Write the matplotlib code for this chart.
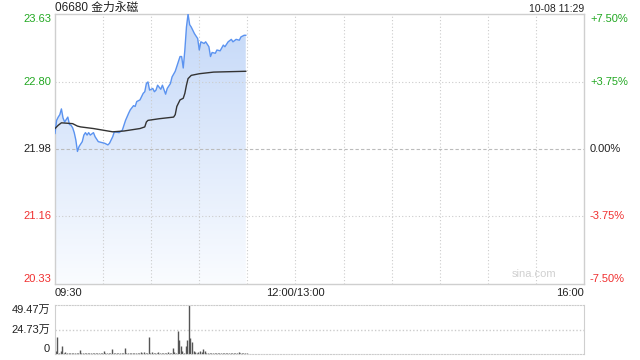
import matplotlib
matplotlib.use("Agg")
import matplotlib.pyplot as plt
import matplotlib.transforms as mtransforms
import numpy as np

plt.rcParams["font.family"] = ["Liberation Sans", "Noto Sans CJK SC", "DejaVu Sans"]

# ── data (minutes after 09:30, lunch break removed) ──────────────────────
prev_close = 21.98
price_min = [0, 1, 2, 3, 4, 5, 6, 8, 9, 10, 11, 12, 13, 14, 15, 17, 18, 19, 20, 21,
             22, 24, 25, 27, 29, 31, 33, 34, 36, 37, 40, 42, 44, 46, 47, 49, 50, 51, 53, 55,
             56, 57, 58, 59, 61, 62, 63, 64, 66, 67, 69, 70, 72, 73, 75, 76, 78, 79, 80, 81,
             82, 83, 84, 85, 87, 89, 90, 91, 93, 94, 96, 97, 98, 100, 101, 103, 105, 106, 108, 110,
             111, 113, 115, 116, 118, 119]
price = [22.17, 22.33, 22.37, 22.40, 22.47, 22.36, 22.31, 22.37, 22.28, 22.27, 22.24, 22.18, 22.09, 21.95, 22.01, 22.07, 22.15, 22.18, 22.15, 22.18,
         22.15, 22.18, 22.13, 22.07, 22.06, 22.05, 22.03, 22.05, 22.13, 22.19, 22.18, 22.21, 22.33, 22.42, 22.46, 22.51, 22.50, 22.56, 22.58, 22.66,
         22.68, 22.78, 22.80, 22.70, 22.72, 22.68, 22.70, 22.76, 22.71, 22.76, 22.65, 22.72, 22.78, 22.86, 22.93, 22.99, 23.11, 23.11, 22.97, 23.19,
         23.47, 23.63, 23.50, 23.47, 23.39, 23.33, 23.19, 23.29, 23.27, 23.29, 23.23, 23.11, 23.16, 23.15, 23.19, 23.18, 23.25, 23.23, 23.29, 23.32,
         23.29, 23.32, 23.31, 23.35, 23.37, 23.37]
avg_min = [0, 2, 4, 11, 14, 16, 24, 36, 43, 53, 56, 57, 58, 65, 74, 75, 76, 78, 80, 81,
           82, 83, 85, 90, 99, 119]
avg_price = [22.23, 22.27, 22.30, 22.29, 22.26, 22.25, 22.23, 22.19, 22.20, 22.23, 22.25, 22.31, 22.33, 22.35, 22.37, 22.40, 22.50, 22.58, 22.60, 22.66,
             22.76, 22.84, 22.88, 22.90, 22.92, 22.93]
# volume per minute, in 万 shares
volume = [2.6, 17.6, 1.0, 2.6, 8.3, 1.0, 2.0, 0.8, 1.2, 0.6,
          1.0, 0.8, 1.3, 0.7, 1.0, 4.3, 1.2, 0.8, 1.0, 0.6,
          0.9, 0.7, 1.1, 0.6, 0.8, 1.0, 0.7, 1.2, 0.9, 0.8,
          3.3, 0.9, 0.6, 0.8, 1.0, 5.0, 0.8, 0.7, 1.1, 0.9,
          0.6, 1.0, 0.8, 6.3, 1.2, 0.9, 0.7, 1.0, 0.8, 1.3,
          0.9, 0.7, 1.0, 2.0, 0.8, 2.0, 1.0, 0.9, 17.6, 1.2,
          1.7, 0.9, 0.8, 1.0, 2.0, 0.8, 1.0, 0.7, 1.1, 0.9,
          2.0, 0.8, 1.0, 6.0, 2.0, 1.0, 23.3, 14.3, 7.6, 2.6,
          1.5, 7.6, 14.3, 49.47, 16.0, 12.0, 3.0, 2.0, 1.5, 2.0,
          3.0, 2.0, 5.0, 3.0, 1.5, 1.0, 1.2, 0.8, 1.0, 0.7,
          1.1, 0.9, 0.8, 1.0, 0.7, 1.2, 0.9, 0.8, 1.0, 0.7,
          1.1, 0.8, 0.9, 1.0, 2.0, 0.8, 1.0, 0.7, 0.9, 0.8]
price_ticks = [23.63, 22.80, 21.98, 21.16, 20.33]
pct_ticks = ["+7.50%", "+3.75%", "0.00%", "-3.75%", "-7.50%"]
vol_ticks = [49.47, 24.73, 0]
vol_labels = ["49.47万", "24.73万", "0"]
time_labels = [(0, "09:30"), (150, "12:00/13:00"), (330, "16:00")]

GREEN = "#22a822"
RED = "#f03030"
GRID = "#cccccc"
BORDER = "#cfcfcf"
FS = 8

fig = plt.figure(figsize=(6.4, 3.6), dpi=100)
ax = fig.add_axes([55 / 640, 1 - 284 / 360, 529 / 640, 270 / 360])
axv = fig.add_axes([55 / 640, 1 - 354 / 360, 529 / 640, 49 / 360])

# ── price panel ──────────────────────────────────────────────────────────
ax.set_xlim(0, 330)
ax.set_ylim(price_ticks[-1], price_ticks[0])
for m in range(30, 330, 30):
    ax.axvline(m, color=GRID, lw=0.8, ls=(0, (1, 2)), zorder=2)
for p in price_ticks[1:-1]:
    if p == prev_close:
        ax.axhline(p, color="#bbbbbb", lw=0.8, ls=(0, (3, 2)), zorder=2)
    else:
        ax.axhline(p, color=GRID, lw=0.8, ls=(0, (1, 2)), zorder=2)

# gradient fill under price line
poly = ax.fill_between(price_min, price, price_ticks[-1], color="none", lw=0)
grad = np.linspace(0, 1, 256).reshape(-1, 1)
top_c = np.array([196, 216, 248]) / 255
bot_c = np.array([250, 252, 255]) / 255
img = top_c * (1 - grad[..., None]) + bot_c * grad[..., None]
img = img.reshape(256, 1, 3)
im = ax.imshow(img, extent=[0, price_min[-1], price_ticks[-1], max(price)],
               aspect="auto", origin="upper", zorder=1)
path = poly.get_paths()[0]
im.set_clip_path(path, transform=ax.transData)
ax.set_ylim(price_ticks[-1], price_ticks[0])
ax.set_xlim(0, 330)

ax.plot(price_min, price, color="#5b93f0", lw=1.0, zorder=3)
ax.plot(avg_min, avg_price, color="#333333", lw=1.0, zorder=3)

ax.set_xticks([])
ax.set_yticks([])
for s in ax.spines.values():
    s.set_color(BORDER)
    s.set_linewidth(1)

ylab = mtransforms.offset_copy(ax.get_yaxis_transform(), fig=fig, x=-4, y=0, units="dots")
rlab = mtransforms.offset_copy(ax.get_yaxis_transform(), fig=fig, x=6, y=0, units="dots")
for i, (p, pct) in enumerate(zip(price_ticks, pct_ticks)):
    c = GREEN if p > prev_close else (RED if p < prev_close else "#222222")
    va = "top" if i == 0 else ("bottom" if i == len(price_ticks) - 1 else "center")
    ax.text(0, p, f"{p:.2f}", transform=ylab, ha="right", va=va, color=c, fontsize=FS)
    ax.text(1, p, pct, transform=rlab, ha="left", va=va, color=c, fontsize=FS)

tlab = mtransforms.offset_copy(ax.get_xaxis_transform(), fig=fig, x=0, y=-4, units="dots")
for m, lab in time_labels:
    ha = "left" if m == 0 else ("right" if m == 330 else "center")
    ax.text(m, 0, lab, transform=tlab, ha=ha, va="top", color="#222222", fontsize=FS)

ax.text(0, 1, "06680 金力永磁", transform=ax.transAxes, ha="left", va="bottom",
        fontsize=FS + 0.5, color="#222222")
ax.text(1, 1, "10-08 11:29", transform=ax.transAxes, ha="right", va="bottom",
        fontsize=FS - 0.5, color="#222222")
ax.text(0.905, 0.02, "sina.com", transform=ax.transAxes, ha="center", va="bottom",
        fontsize=FS, color="#d0d0d0")

# ── volume panel ─────────────────────────────────────────────────────────
axv.set_xlim(0, 330)
axv.set_ylim(0, vol_ticks[0])
axv.vlines(np.arange(len(volume)) + 0.5, 0, volume, colors="#555555", lw=1.0, zorder=2)
axv.axhline(vol_ticks[1], color=GRID, lw=1.0, ls=(0, (1, 1.5)), zorder=0)
axv.set_xticks([])
axv.set_yticks([])
for k in ["left", "right"]:
    axv.spines[k].set_color(BORDER)
for k in ["top", "bottom"]:
    axv.spines[k].set_color(GRID)
    axv.spines[k].set_linestyle((0, (1, 1.5)))
vlab = mtransforms.offset_copy(axv.get_yaxis_transform(), fig=fig, x=-5, y=0, units="dots")
for i, (v, lab) in enumerate(zip(vol_ticks, vol_labels)):
    va = "top" if i == 0 else ("bottom" if i == len(vol_ticks) - 1 else "center")
    axv.text(0, v, lab, transform=vlab, ha="right", va=va, color="#222222", fontsize=FS)

fig.savefig("out.png", dpi=100)
